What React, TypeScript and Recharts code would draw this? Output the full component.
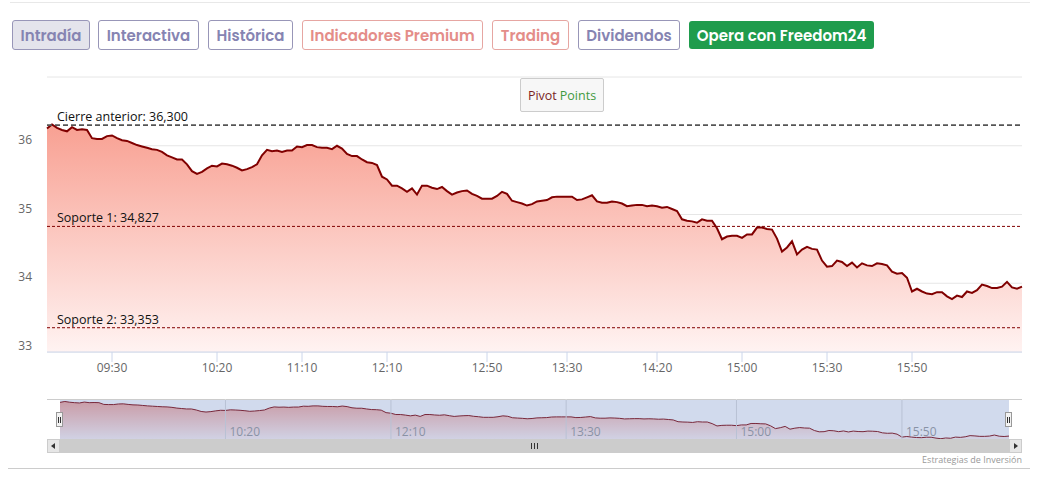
import React from 'react';
import {
  AreaChart,
  Area,
  XAxis,
  YAxis,
  CartesianGrid,
  ReferenceLine,
} from 'recharts';

// intraday price, one reading every few minutes (ordinal axis, index based)
const prices = [
  36.25, 36.31, 36.26, 36.23, 36.21, 36.27, 36.23, 36.24, 36.23, 36.11,
  36.10, 36.10, 36.14, 36.15, 36.11, 36.08, 36.07, 36.04, 36.01, 35.99,
  35.97, 35.95, 35.94, 35.91, 35.86, 35.83, 35.80, 35.80, 35.73, 35.63,
  35.59, 35.62, 35.67, 35.71, 35.70, 35.74, 35.73, 35.71, 35.68, 35.64,
  35.66, 35.69, 35.73, 35.86, 35.94, 35.92, 35.93, 35.91, 35.93, 35.93,
  35.99, 35.98, 36.01, 36.01, 35.98, 35.97, 35.97, 35.95, 36.00, 35.96,
  35.88, 35.85, 35.85, 35.80, 35.76, 35.75, 35.72, 35.55, 35.51, 35.42,
  35.42, 35.38, 35.33, 35.38, 35.29, 35.42, 35.42, 35.39, 35.37, 35.40,
  35.34, 35.29, 35.32, 35.34, 35.35, 35.30, 35.27, 35.23, 35.23, 35.23,
  35.27, 35.33, 35.30, 35.20, 35.18, 35.16, 35.13, 35.15, 35.19, 35.20,
  35.21, 35.25, 35.26, 35.26, 35.26, 35.26, 35.21, 35.22, 35.25, 35.28,
  35.19, 35.17, 35.17, 35.19, 35.18, 35.16, 35.12, 35.13, 35.14, 35.14,
  35.12, 35.13, 35.12, 35.10, 35.11, 35.08, 35.05, 34.93, 34.91, 34.90,
  34.88, 34.93, 34.91, 34.91, 34.80, 34.64, 34.68, 34.69, 34.69, 34.66,
  34.71, 34.71, 34.81, 34.81, 34.79, 34.78, 34.65, 34.46, 34.52, 34.61,
  34.42, 34.49, 34.53, 34.50, 34.49, 34.33, 34.24, 34.25, 34.33, 34.31,
  34.25, 34.30, 34.23, 34.29, 34.26, 34.25, 34.29, 34.28, 34.26, 34.17,
  34.14, 34.15, 34.08, 33.88, 33.92, 33.88, 33.85, 33.84, 33.87, 33.87,
  33.81, 33.77, 33.82, 33.80, 33.88, 33.86, 33.90, 33.98, 33.96, 33.93,
  33.93, 33.95, 34.02, 33.94, 33.92, 33.95,
];

const timeTicks = [13, 34, 51, 68, 88, 104, 122, 139, 156, 173];
const timeLabels = ['09:30', '10:20', '11:10', '12:10', '12:50', '13:30', '14:20', '15:00', '15:30', '15:50'];
const navTicks = [34, 68, 104, 139, 173];
const navLabels = ['10:20', '12:10', '13:30', '15:00', '15:50'];
const priceTicks = [33, 34, 35, 36, 37];

const pivotNames = ['Cierre anterior', 'Soporte 1', 'Soporte 2'];
const pivotValues = [36.3, 34.827, 33.353];

const buttonNames = ['Intradía', 'Interactiva', 'Histórica', 'Indicadores Premium', 'Trading', 'Dividendos', 'Opera con Freedom24'];

const FONT = '"Open Sans", "DejaVu Sans", sans-serif';
const BTN_FONT = 'Poppins, Inter, "Open Sans", sans-serif';

const rows = prices.map((price, i) => ({ i, price }));

// button boxes, left/width in px
const btnBoxes = [
  { left: 12, width: 78, kind: 'active' },
  { left: 98, width: 101, kind: 'blue' },
  { left: 208, width: 85, kind: 'blue' },
  { left: 302, width: 181, kind: 'red' },
  { left: 492, width: 77, kind: 'red' },
  { left: 578, width: 102, kind: 'blue' },
  { left: 689, width: 185, kind: 'green' },
];

function btnStyle(kind: string, left: number, width: number): React.CSSProperties {
  const base: React.CSSProperties = {
    position: 'absolute',
    left,
    top: 20,
    width,
    height: 30,
    boxSizing: 'border-box',
    borderRadius: 3,
    fontFamily: BTN_FONT,
    fontWeight: 600,
    fontSize: 15,
    display: 'flex',
    alignItems: 'center',
    justifyContent: 'center',
    whiteSpace: 'nowrap',
  };
  if (kind === 'active') return { ...base, background: '#e4e4ec', border: '1px solid #9896b8', color: '#8684b2' };
  if (kind === 'blue') return { ...base, background: '#fff', border: '1px solid #9896b8', color: '#8684b2' };
  if (kind === 'red') return { ...base, background: '#fff', border: '1px solid #e6a6a2', color: '#e48d89' };
  return { ...base, top: 21, height: 28, background: '#1f9c4d', border: 'none', color: '#fff' };
}

function PriceTick(props: any) {
  const { x, y, payload } = props;
  if (payload.value === 37) return null;
  return (
    <text x={32} y={y - 2} textAnchor="end" fill="#666" fontSize={12} fontFamily={FONT}>
      {payload.value}
    </text>
  );
}

function PivotLabel(props: any) {
  const { viewBox, text } = props;
  return (
    <text x={viewBox.x + 10} y={viewBox.y - 4} fill="#111" fontSize={12.5} fontFamily={FONT}>
      {text}
    </text>
  );
}

function NavLabel(props: any) {
  const { viewBox, text } = props;
  return (
    <text x={viewBox.x + 4} y={viewBox.y + viewBox.height - 3} fill="#999" fontSize={12} fontFamily={FONT}>
      {text}
    </text>
  );
}

export default function App() {
  return (
    <div style={{ position: 'absolute', left: 0, top: 0, width: 1038, height: 477, background: '#fff', overflow: 'hidden' }}>
      <div style={{ position: 'absolute', left: 10, top: 2, width: 1020, height: 1, background: '#e8e8e8' }} />
      {buttonNames.map((name, k) => (
        <div key={name} style={btnStyle(btnBoxes[k].kind, btnBoxes[k].left, btnBoxes[k].width)}>
          {name}
        </div>
      ))}

      <div style={{ position: 'absolute', left: 0, top: 0 }}>
        <AreaChart width={1038} height={400} data={rows} margin={{ top: 77, right: 16, bottom: 0, left: 0 }}>
          <defs>
            <linearGradient id="priceFill" x1="0" y1="0" x2="0" y2="1">
              <stop offset="0%" stopColor="#f8a092" />
              <stop offset="100%" stopColor="#fff3f2" />
            </linearGradient>
          </defs>
          <CartesianGrid vertical={false} stroke="#e6e6e6" />
          <XAxis
            dataKey="i"
            type="number"
            domain={[0, prices.length - 1]}
            ticks={timeTicks}
            interval={0}
            tickFormatter={(v) => timeLabels[timeTicks.indexOf(v)]}
            height={48}
            axisLine={{ stroke: '#ccd6eb' }}
            tickLine={{ stroke: '#ccd6eb' }}
            tickSize={10}
            tickMargin={1}
            tick={{ fill: '#666', fontSize: 12, fontFamily: FONT }}
          />
          <YAxis
            domain={[33, 37]}
            ticks={priceTicks}
            interval={0}
            width={47}
            axisLine={false}
            tickLine={false}
            tick={<PriceTick />}
          />
          <Area
            type="linear"
            dataKey="price"
            stroke="#800000"
            strokeWidth={2}
            fill="url(#priceFill)"
            fillOpacity={1}
            dot={false}
            activeDot={false}
            isAnimationActive={false}
          />
          {pivotValues.map((v, k) => (
            <ReferenceLine
              key={pivotNames[k]}
              y={v}
              stroke={k === 0 ? '#555' : '#800000'}
              strokeWidth={k === 0 ? 1.8 : 1}
              strokeDasharray={k === 0 ? '5 3' : '3 2'}
              label={<PivotLabel text={`${pivotNames[k]}: ${v.toFixed(3).replace('.', ',')}`} />}
            />
          ))}
        </AreaChart>
      </div>

      {/* legend box */}
      <div
        style={{
          position: 'absolute',
          left: 520,
          top: 78,
          width: 84,
          height: 34,
          boxSizing: 'border-box',
          background: '#f7f7f7',
          border: '1px solid #cccccc',
          borderRadius: 2,
          fontFamily: FONT,
          fontSize: 12.5,
          display: 'flex',
          alignItems: 'center',
          justifyContent: 'center',
        }}
      >
        <span style={{ color: '#7a1f1f' }}>Pivot</span>
        <span style={{ color: '#3f9a3f', marginLeft: 3 }}>Points</span>
      </div>

      {/* navigator */}
      <div style={{ position: 'absolute', left: 47, top: 399, width: 975, height: 1, background: '#cccccc' }} />
      <div style={{ position: 'absolute', left: 0, top: 399 }}>
        <AreaChart width={1038} height={40} data={rows} margin={{ top: 0, right: 29, bottom: 0, left: 60 }}>
          <defs>
            <linearGradient id="navFill" x1="0" y1="0" x2="0" y2="1">
              <stop offset="0%" stopColor="#f4a79c" />
              <stop offset="100%" stopColor="#fff3f2" />
            </linearGradient>
          </defs>
          <XAxis dataKey="i" type="number" domain={[0, prices.length - 1]} hide />
          <YAxis domain={[33.75, 36.48]} hide />
          {navTicks.map((t, k) => (
            <ReferenceLine key={t} x={t} stroke="#dcdcdc" label={<NavLabel text={navLabels[k]} />} />
          ))}
          <Area
            type="linear"
            dataKey="price"
            stroke="#800000"
            strokeWidth={1}
            fill="url(#navFill)"
            fillOpacity={1}
            dot={false}
            activeDot={false}
            isAnimationActive={false}
          />
        </AreaChart>
      </div>
      <div style={{ position: 'absolute', left: 60, top: 400, width: 949, height: 39, background: 'rgba(102,133,194,0.3)' }} />
      {/* handles */}
      {[60, 1009].map((hx) => (
        <div
          key={hx}
          style={{
            position: 'absolute',
            left: hx - 4,
            top: 412,
            width: 7,
            height: 15,
            boxSizing: 'border-box',
            background: '#f2f2f2',
            border: '1px solid #999',
            display: 'flex',
            justifyContent: 'center',
            gap: 1,
            paddingTop: 4,
          }}
        >
          <div style={{ width: 1, height: 6, background: '#333' }} />
          <div style={{ width: 1, height: 6, background: '#333' }} />
        </div>
      ))}

      {/* scrollbar */}
      <div style={{ position: 'absolute', left: 47, top: 439, width: 975, height: 14, background: '#f2f2f2' }} />
      <div style={{ position: 'absolute', left: 60, top: 439, width: 949, height: 14, background: '#cccccc' }} />
      <div style={{ position: 'absolute', left: 47, top: 439, width: 13, height: 14, background: '#e6e6e6', border: '1px solid #cccccc', boxSizing: 'border-box' }}>
        <div style={{ position: 'absolute', left: 3, top: 3, width: 0, height: 0, borderTop: '3px solid transparent', borderBottom: '3px solid transparent', borderRight: '4px solid #333' }} />
      </div>
      <div style={{ position: 'absolute', left: 1009, top: 439, width: 13, height: 14, background: '#e6e6e6', border: '1px solid #cccccc', boxSizing: 'border-box' }}>
        <div style={{ position: 'absolute', left: 4, top: 3, width: 0, height: 0, borderTop: '3px solid transparent', borderBottom: '3px solid transparent', borderLeft: '4px solid #333' }} />
      </div>
      {[531, 534, 537].map((gx) => (
        <div key={gx} style={{ position: 'absolute', left: gx, top: 443, width: 1, height: 6, background: '#333' }} />
      ))}

      <div
        style={{
          position: 'absolute',
          right: 16,
          top: 453,
          fontFamily: FONT,
          fontSize: 9,
          color: '#999',
        }}
      >
        Estrategias de Inversión
      </div>
      <div style={{ position: 'absolute', left: 8, top: 468, width: 1022, height: 1, background: '#cccccc' }} />
    </div>
  );
}
